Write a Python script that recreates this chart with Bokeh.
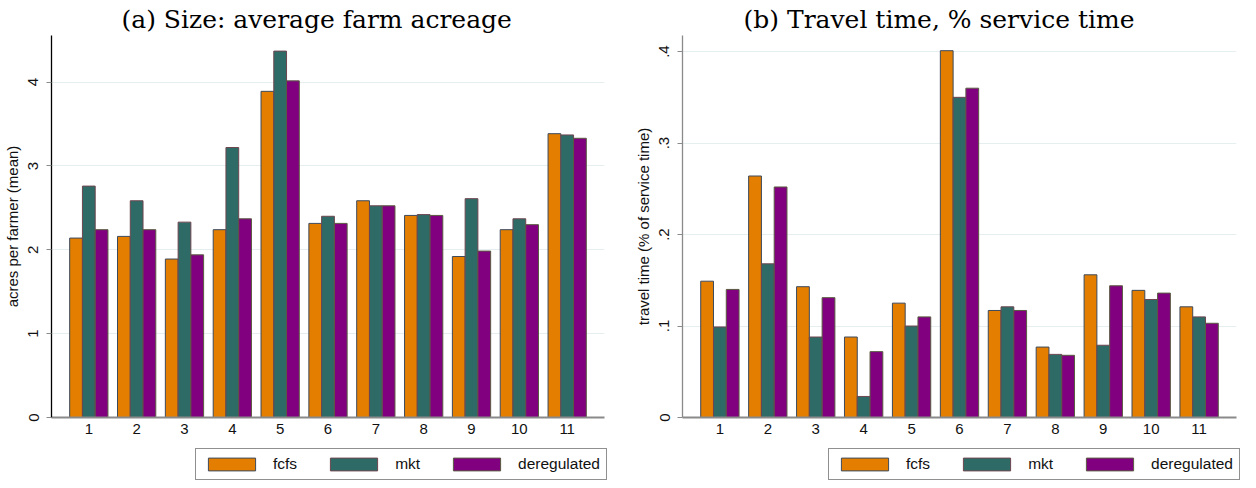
from bokeh.plotting import figure
from bokeh.models import ColumnDataSource, FactorRange, Legend, LegendItem, FixedTicker, Range1d
from bokeh.transform import dodge
from bokeh.layouts import row, column
from bokeh.embed import file_html
from bokeh.resources import INLINE

# ---- data ----
categories = ["1", "2", "3", "4", "5", "6", "7", "8", "9", "10", "11"]
series_names = ["fcfs", "mkt", "deregulated"]

size_fcfs = [2.14, 2.16, 1.89, 2.24, 3.89, 2.315, 2.585, 2.41, 1.92, 2.24, 3.385]
size_mkt = [2.76, 2.585, 2.33, 3.22, 4.37, 2.40, 2.525, 2.42, 2.61, 2.37, 3.37]
size_dereg = [2.24, 2.24, 1.94, 2.37, 4.015, 2.315, 2.525, 2.41, 1.985, 2.30, 3.33]

travel_fcfs = [0.149, 0.264, 0.143, 0.088, 0.125, 0.401, 0.117, 0.077, 0.156, 0.139, 0.121]
travel_mkt = [0.099, 0.168, 0.088, 0.023, 0.100, 0.350, 0.121, 0.069, 0.079, 0.129, 0.110]
travel_dereg = [0.140, 0.252, 0.131, 0.072, 0.110, 0.360, 0.117, 0.068, 0.144, 0.136, 0.103]

size_ticks = [0, 1, 2, 3, 4]
size_tick_labels = ["0", "1", "2", "3", "4"]
travel_ticks = [0, 0.1, 0.2, 0.3, 0.4]
travel_tick_labels = ["0", ".1", ".2", ".3", ".4"]

fill_colors = ["#E37E00", "#2E6B66", "#800080"]
line_colors = ["#3d4a5c", "#6e4650", "#5a5a40"]

SANS = "Liberation Sans"
BW = 0.8 / 3


def make_panel(title, ylabel, vals, yend, ticks, tick_labels, fig_width, border_left, border_right,
               title_offset, yaxis_color):
    src = ColumnDataSource(dict(cat=categories, s0=vals[0], s1=vals[1], s2=vals[2]))
    p = figure(
        x_range=FactorRange(*categories, range_padding=0.28, range_padding_units="absolute"),
        y_range=Range1d(0, yend),
        width=fig_width, height=436,
        min_border_left=border_left, min_border_right=border_right,
        min_border_top=0, min_border_bottom=0,
        output_backend="svg", toolbar_location=None,
        background_fill_color="white", border_fill_color="white",
    )
    p.outline_line_color = None
    for k, off in enumerate([-BW, 0.0, BW]):
        p.vbar(x=dodge("cat", off, range=p.x_range), top="s%d" % k, width=BW, source=src,
               fill_color=fill_colors[k], line_color=line_colors[k], line_width=1)

    p.title.text = title
    p.title.text_font = "DejaVu Serif"
    p.title.text_font_size = "25px"
    p.title.text_font_style = "normal"
    p.title.text_color = "black"
    p.title.align = "left"
    p.title.offset = title_offset
    p.title.standoff = 4

    p.xgrid.grid_line_color = None
    p.ygrid.grid_line_color = "#e6eff0"
    p.ygrid.grid_line_width = 1
    p.ygrid.ticker = FixedTicker(ticks=ticks)

    xa = p.xaxis[0]
    xa.axis_line_color = "#8a8a8a"
    xa.axis_line_width = 2
    xa.major_tick_line_color = None
    xa.minor_tick_line_color = None
    xa.major_tick_out = 0
    xa.major_label_standoff = 6
    xa.major_label_text_font = SANS
    xa.major_label_text_font_size = "15px"
    xa.major_label_text_color = "#111111"

    ya = p.yaxis[0]
    ya.ticker = FixedTicker(ticks=ticks)
    ya.major_label_overrides = {t: l for t, l in zip(ticks, tick_labels)}
    ya.axis_line_color = yaxis_color
    ya.axis_line_width = 1.3
    ya.major_tick_line_color = "#8a8a8a"
    ya.major_tick_out = 5
    ya.major_tick_in = 0
    ya.minor_tick_line_color = None
    ya.major_label_orientation = "vertical"
    ya.major_label_standoff = 8
    ya.major_label_text_font = SANS
    ya.major_label_text_font_size = "15px"
    ya.major_label_text_color = "#111111"
    ya.axis_label = ylabel
    ya.axis_label_text_font = SANS
    ya.axis_label_text_font_size = "15px"
    ya.axis_label_text_font_style = "normal"
    ya.axis_label_text_color = "#111111"
    ya.axis_label_standoff = 5
    return p


def make_legend_fig(fig_width, legend_x):
    q = figure(width=fig_width, height=44, x_range=Range1d(0, 1), y_range=Range1d(0, 1),
               min_border=0, x_axis_location=None, y_axis_location=None,
               output_backend="svg", toolbar_location=None,
               background_fill_color="white", border_fill_color="white")
    q.outline_line_color = None
    q.grid.visible = False
    items = []
    for k in range(3):
        # placeholder renderer lying outside the visible range, used only for its legend swatch
        r = q.vbar(x=[5], top=[5], width=0.1, fill_color=fill_colors[k],
                   line_color=line_colors[k], line_width=1)
        items.append(LegendItem(label=series_names[k], renderers=[r]))
    leg = Legend(items=items, orientation="horizontal", location=(legend_x, 0))
    leg.glyph_width = 59
    leg.glyph_height = 16
    leg.label_height = 16
    leg.label_standoff = 12
    leg.spacing = 27
    leg.padding = 6
    leg.margin = 0
    leg.border_line_color = "#222222"
    leg.border_line_width = 1
    leg.label_text_font = SANS
    leg.label_text_font_size = "15.5px"
    leg.label_text_color = "#111111"
    leg.background_fill_color = "white"
    q.add_layout(leg, "center")
    return q


p1 = make_panel("(a) Size: average farm acreage", "acres per farmer (mean)",
                [size_fcfs, size_mkt, size_dereg], 4.556, size_ticks, size_tick_labels,
                618, 44, 14, 70, "#000000")
p2 = make_panel("(b) Travel time, % service time", "travel time (% of service time)",
                [travel_fcfs, travel_mkt, travel_dereg], 0.4176, travel_ticks, travel_tick_labels,
                622, 64, 4, 61, "#8a8a8a")
l1 = make_legend_fig(618, 195)
l2 = make_legend_fig(622, 210)

layout = column(row(p1, p2, spacing=0), row(l1, l2, spacing=0), spacing=0)
open("out.html", "w").write(file_html(layout, INLINE))
